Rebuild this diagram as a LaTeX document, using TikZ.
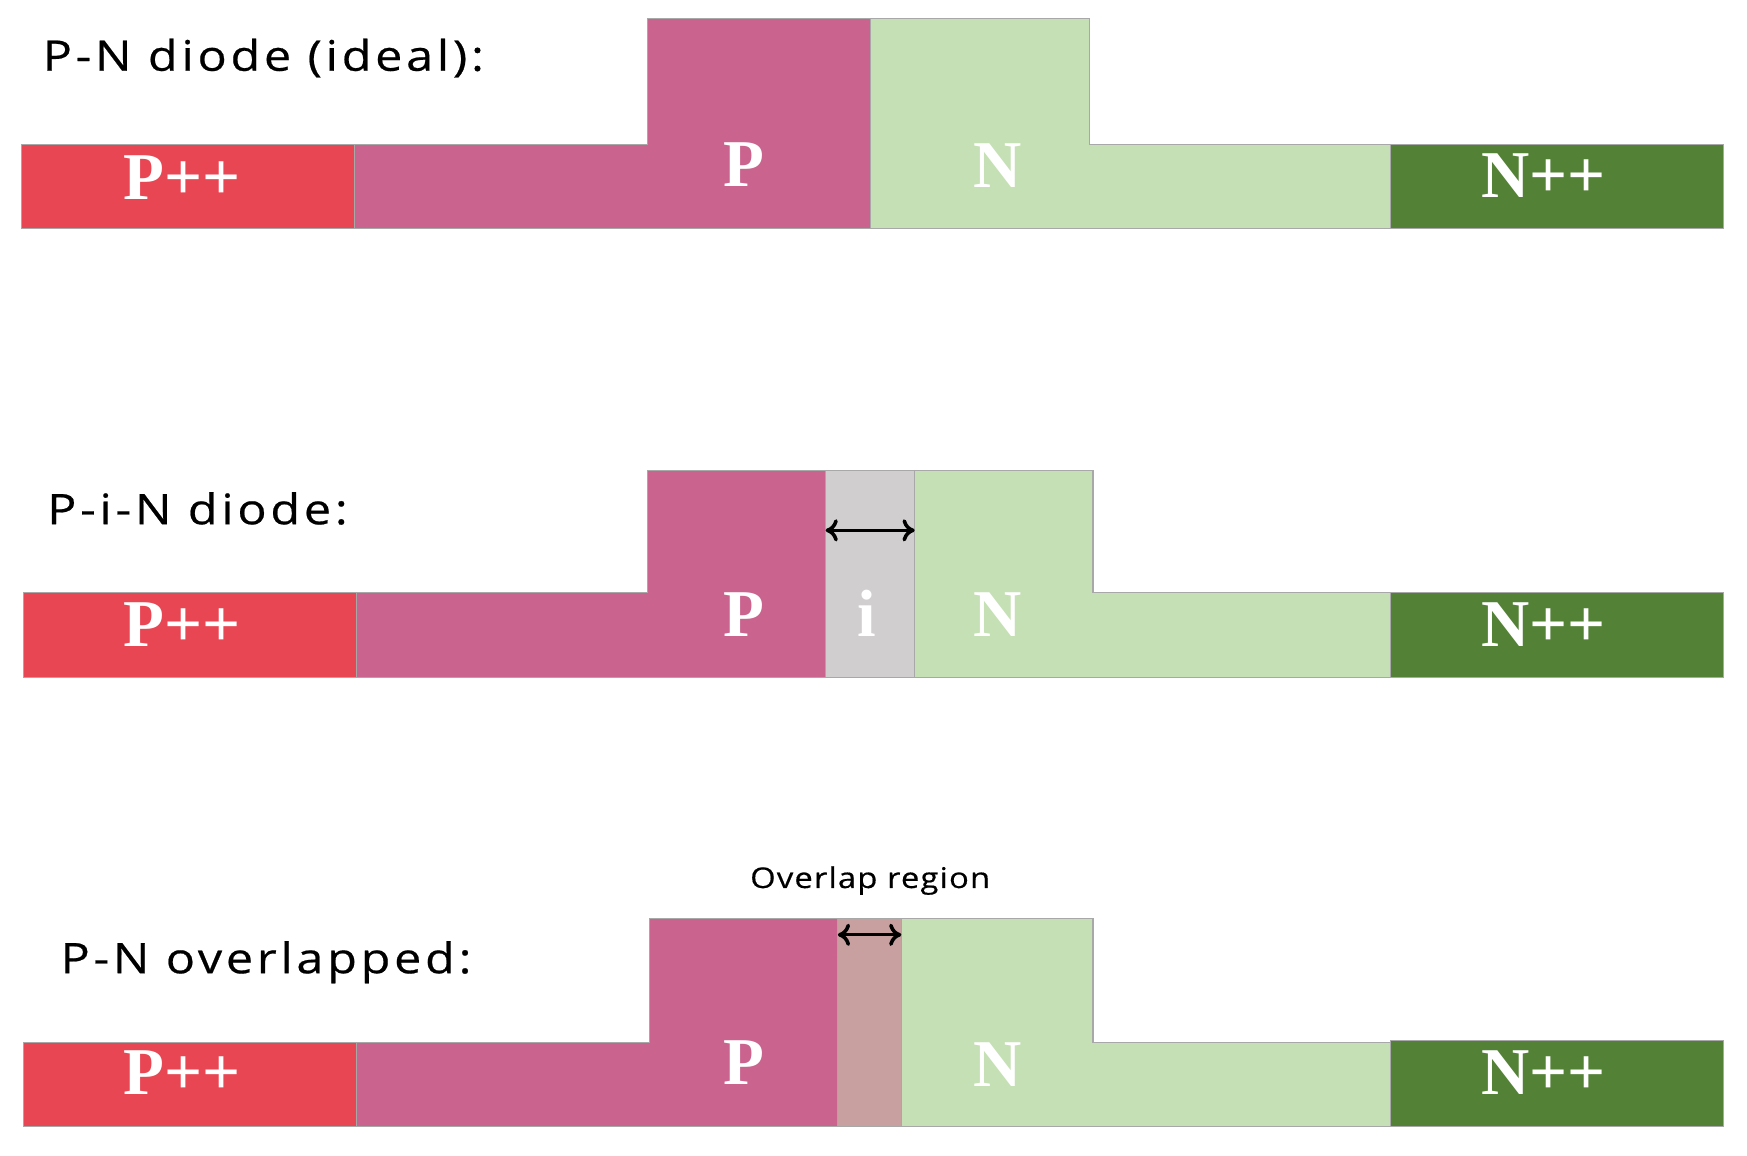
\documentclass[tikz,border=0pt]{standalone}
\usepackage{fontspec}
\setmainfont{Liberation Serif}
\newfontfamily\titlefont[FakeStretch=1.15,LetterSpace=9,FakeBold=0.5]{Open Sans}
\newfontfamily\smallfont[FakeStretch=1.15,LetterSpace=4,FakeBold=0.5]{Open Sans}
\usetikzlibrary{arrows.meta}
\definecolor{cPpp}{HTML}{E94653}
\definecolor{cP}{HTML}{CA648F}
\definecolor{cN}{HTML}{C5E0B4}
\definecolor{cNpp}{HTML}{538135}
\definecolor{cI}{HTML}{D0CECE}
\definecolor{cOv}{HTML}{C8A0A0}
\definecolor{cEdge}{HTML}{A8A8A8}
\begin{document}
\begin{tikzpicture}[x=0.5pt,y=-0.5pt,
  region/.style={draw=cEdge,line width=0.5pt},
  lbl/.style={text=white,font=\fontsize{30}{32}\selectfont\bfseries,anchor=base,inner sep=0pt},
  ttl/.style={font=\titlefont\fontsize{18.9}{22}\selectfont,anchor=base west,inner sep=0pt},
  dimarrow/.style={{To[length=5.5pt,width=10pt,line width=1.6pt]}-{To[length=5.5pt,width=10pt,line width=1.6pt]},line width=1.4pt,black}]
\useasboundingbox (0,0) rectangle (1568,1037);

\fill[white] (0,0) rectangle (1568,1037);
% ---------- Row 1: P-N diode (ideal)
\draw[region,fill=cPpp] (19,130) rectangle (318,205);
\draw[region,fill=cP] (318,130) -- (581,130) -- (581,17) -- (781,17) -- (781,205) -- (318,205) -- cycle;
\draw[region,fill=cN] (781,17) -- (978,17) -- (978,130) -- (1248,130) -- (1248,205) -- (781,205) -- cycle;
\draw[region,fill=cNpp] (1248,130) rectangle (1547,205);
\node[ttl] (t1) at (38,63.5) {P-N diode (ideal):};
\node[lbl] (a1) at (163.5,179) {P++};
\node[lbl] (b1) at (668,167) {P};
\node[lbl] (c1) at (895,168) {N};
\node[lbl] (d1) at (1385.5,177) {N++};

% ---------- Row 2: P-i-N diode
\draw[region,fill=cPpp] (21,532) rectangle (320,608);
\draw[region,fill=cP] (320,532) -- (581,532) -- (581,422) -- (741,422) -- (741,608) -- (320,608) -- cycle;
\draw[region,fill=cI] (741,422) rectangle (821,608);
\draw[region,fill=cN] (821,422) -- (981,422) -- (981,532) -- (1248,532) -- (1248,608) -- (821,608) -- cycle;
\draw[region,fill=cNpp] (1248,532) rectangle (1547,608);
\node[ttl] (t2) at (42,470.5) {P-i-N diode:};
\node[lbl] (a2) at (163.5,580) {P++};
\node[lbl] (b2) at (668,571) {P};
\node[lbl] (i2) at (778,571) {i};
\node[lbl] (c2) at (895,571) {N};
\node[lbl] (d2) at (1385.5,580) {N++};
\coordinate (iL) at (741,476);
\coordinate (iR) at (821,476);
\draw[dimarrow] (iL) -- (iR);

% ---------- Row 3: P-N overlapped
\draw[region,fill=cPpp] (21,936) rectangle (320,1011);
\draw[region,fill=cP] (320,936) -- (583,936) -- (583,824) -- (752,824) -- (752,1011) -- (320,1011) -- cycle;
\draw[region,fill=cN] (809,824) -- (981,824) -- (981,936) -- (1248,936) -- (1248,1011) -- (809,1011) -- cycle;
\draw[region,fill=cOv] (752,824) rectangle (809,1011);
\draw[region,fill=cNpp] (1248,934) rectangle (1547,1011);
\node[ttl] (t3) at (54,873.5) {P-N overlapped:};
\node[font=\smallfont\fontsize{12.8}{15}\selectfont,anchor=base,inner sep=0pt] (ov) at (781,797) {Overlap region};
\node[lbl] (a3) at (163.5,982) {P++};
\node[lbl] (b3) at (668,973) {P};
\node[lbl] (c3) at (895,975) {N};
\node[lbl] (d3) at (1385.5,982) {N++};
\coordinate (oL) at (752,839);
\coordinate (oR) at (809,839);
\draw[dimarrow] (oL) -- (oR);
\end{tikzpicture}
\end{document}
